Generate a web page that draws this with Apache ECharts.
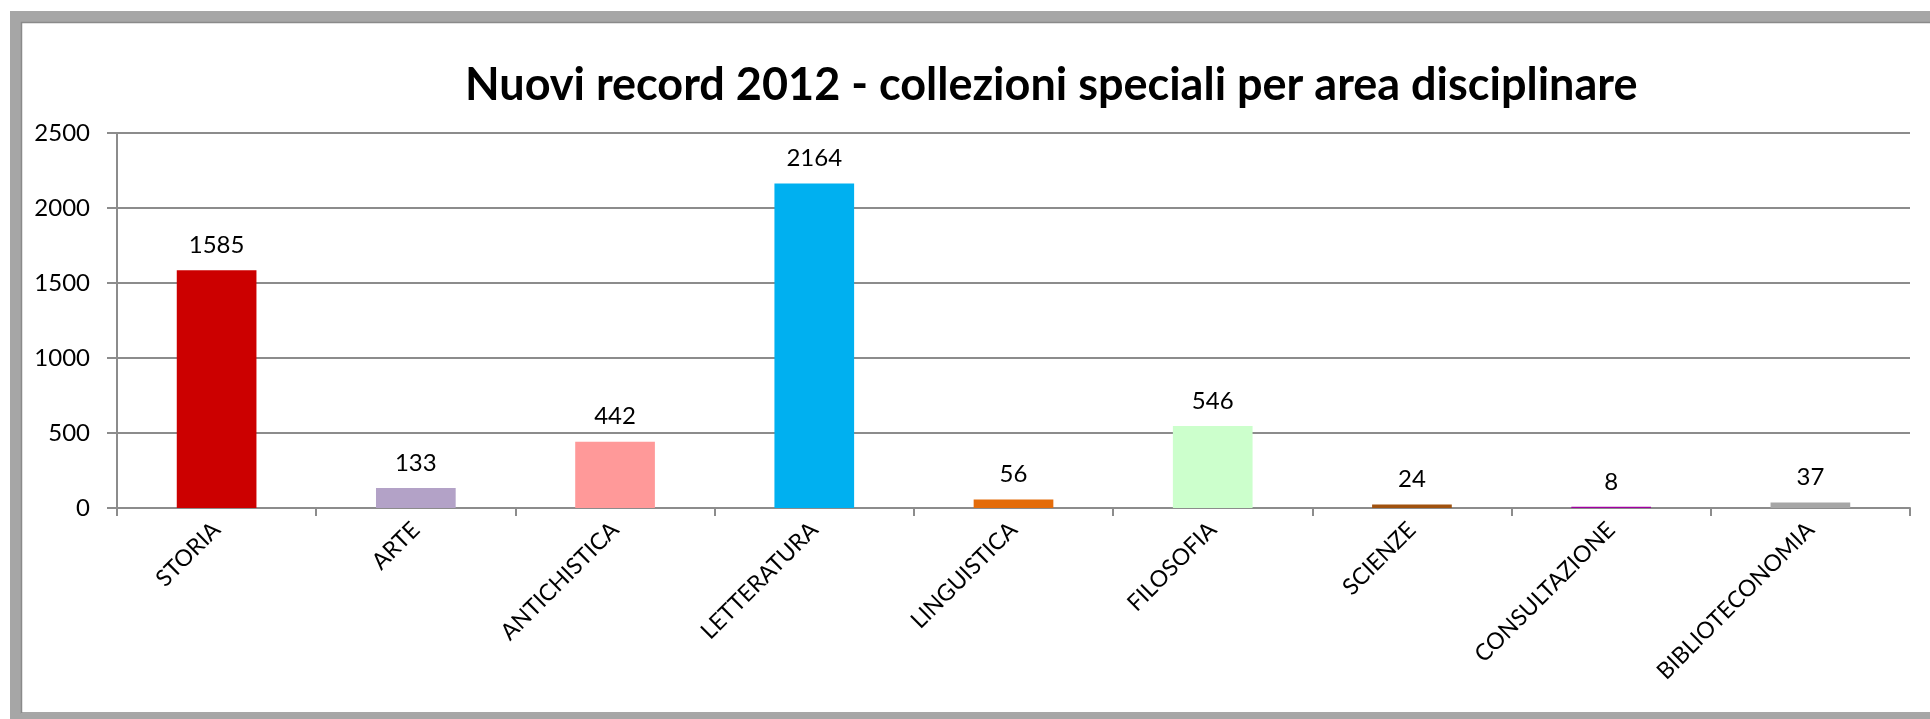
<!DOCTYPE html>
<html>
<head>
<meta charset="utf-8">
<title>Nuovi record 2012 - collezioni speciali per area disciplinare</title>
<script src="https://cdn.jsdelivr.net/npm/echarts@6/dist/echarts.min.js"></script>
<style>
  html, body { margin: 0; padding: 0; background: #ffffff; }
  #chart { width: 1930px; height: 719px; }
</style>
</head>
<body>
<div id="chart"></div>
<script>
// Categories (subject areas) and the number of new records in 2012
const categories = ['STORIA', 'ARTE', 'ANTICHISTICA', 'LETTERATURA', 'LINGUISTICA', 'FILOSOFIA', 'SCIENZE', 'CONSULTAZIONE', 'BIBLIOTECONOMIA'];
const values = [1585, 133, 442, 2164, 56, 546, 24, 8, 37];
const barColors = ['#CC0000', '#B3A2C7', '#FF9999', '#00B0F0', '#E46C0A', '#CCFFCC', '#A0520F', '#A000A0', '#A6A6A6'];
const yTicks = { min: 0, max: 2500, interval: 500 };
const titleText = 'Nuovi record 2012 - collezioni speciali per area disciplinare';

const FONT = 'Lato';
const AXIS_GREY = '#8c8c8c';

const chart = echarts.init(document.getElementById('chart'), null, { renderer: 'canvas' });

chart.setOption({
  animation: false,
  backgroundColor: '#ffffff',
  title: {
    text: titleText,
    left: 460,
    top: 58,
    textStyle: { fontFamily: FONT, fontWeight: 'bold', fontSize: 45, color: '#000000' }
  },
  graphic: [
    {
      type: 'rect',
      silent: true,
      shape: { x: 15.5, y: 16.5, width: 2000, height: 703 },
      style: { fill: 'none', stroke: '#a6a6a6', lineWidth: 11 }
    },
    {
      type: 'rect',
      silent: true,
      shape: { x: 21.5, y: 22.5, width: 2000, height: 690.5 },
      style: { fill: 'none', stroke: '#8a8a8a', lineWidth: 1.5 }
    }
  ],
  grid: { left: 117, top: 133, right: 20, bottom: 211, containLabel: false },
  xAxis: {
    type: 'category',
    data: categories,
    boundaryGap: true,
    axisLine: { show: true, lineStyle: { color: AXIS_GREY, width: 2 } },
    axisTick: { show: true, inside: false, length: 8, interval: 0, lineStyle: { color: AXIS_GREY, width: 2 } },
    axisLabel: {
      interval: 0,
      rotate: 45,
      margin: 18,
      fontFamily: FONT,
      fontSize: 23,
      color: '#000000'
    },
    splitLine: { show: false }
  },
  yAxis: {
    type: 'value',
    min: yTicks.min,
    max: yTicks.max,
    interval: yTicks.interval,
    axisLine: { show: true, lineStyle: { color: AXIS_GREY, width: 2 } },
    axisTick: { show: true, inside: false, length: 10, lineStyle: { color: AXIS_GREY, width: 2 } },
    axisLabel: {
      margin: 27,
      fontFamily: FONT,
      fontSize: 24,
      color: '#000000',
      formatter: (v) => String(v)
    },
    splitLine: { show: true, lineStyle: { color: AXIS_GREY, width: 2 } }
  },
  series: [{
    type: 'bar',
    barWidth: '40%',
    data: values.map((v, i) => ({ value: v, itemStyle: { color: barColors[i] } })),
    label: {
      show: true,
      position: 'top',
      distance: 13,
      fontFamily: FONT,
      fontSize: 24,
      color: '#000000'
    }
  }]
});
</script>
</body>
</html>
